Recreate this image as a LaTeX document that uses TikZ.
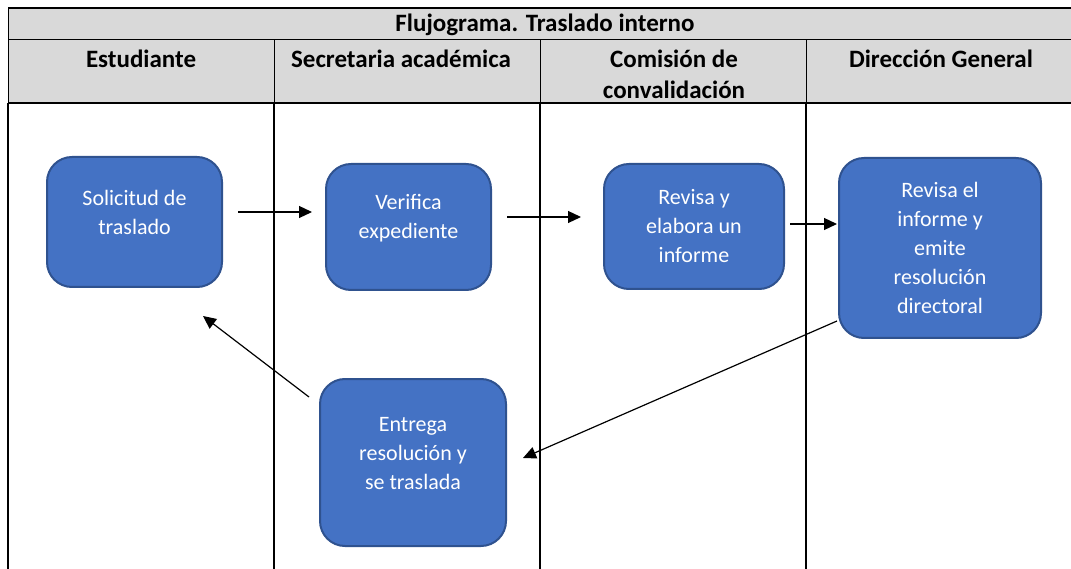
\documentclass[tikz,border=0pt]{standalone}
\usepackage{fontspec}
\setmainfont{Carlito}
\usetikzlibrary{arrows.meta,calc}
\definecolor{boxfill}{RGB}{68,114,196}
\definecolor{boxline}{RGB}{47,82,143}
\definecolor{hdrgray}{RGB}{217,217,217}
\tikzset{
  stepbox/.style={draw=boxline, fill=boxfill, line width=2pt, rounded corners=25pt,
    text=white, align=center, inner sep=0pt,
    font=\fontsize{22}{29}\selectfont},
  hdr/.style={align=center, inner sep=0pt, font=\bfseries\fontsize{25}{31.5}\selectfont},
  flow/.style={line width=1.2pt, -{Triangle[length=13pt,width=12pt]}},
  thickrule/.style={line width=2pt},
  thinrule/.style={line width=1pt}
}
\begin{document}
\begin{tikzpicture}[x=1pt,y=-1pt]
\useasboundingbox (0,0) rectangle (1071,569);
\begin{scope}
\clip (0,0) rectangle (1071,569);
% header background
\fill[hdrgray] (8,8) rectangle (1080,103);
\draw[thickrule] (8,8) -- (1080,8);
\draw[thinrule] (8,40) -- (1080,40);
\draw[thickrule] (8,103) -- (1080,103);
\foreach \x in {8,274,540,806} {
  \draw[thinrule] (\x,40) -- (\x,103);
  \draw[thickrule] (\x,103) -- (\x,575);
}
\draw[thinrule] (8,8) -- (8,40);
\end{scope}
% header texts
\node[hdr] (title) at (545,25) {Flujograma. Traslado interno};
\node[hdr] (h1) at (141,59) {Estudiante};
\node[hdr] (h2) at (401,59) {Secretaria académica};
\node[hdr] (h3) at (674,74.5) {Comisión de\\convalidación};
\node[hdr] (h4) at (941,59) {Dirección General};
% boxes
\node[stepbox, minimum width=175pt, minimum height=130pt, text depth=20pt] (n1) at (134.5,222) {Solicitud de\\traslado};
\node[stepbox, minimum width=165pt, minimum height=126pt, text depth=22pt] (n2) at (408.5,227) {Verifica\\expediente};
\node[stepbox, minimum width=180pt, minimum height=125pt] (n3) at (694,226.5) {Revisa y\\elabora un\\informe};
\node[stepbox, minimum width=202pt, minimum height=180pt] (n4) at (940,248) {Revisa el\\informe y\\emite\\resolución\\directoral};
\node[stepbox, minimum width=186pt, minimum height=167pt, text depth=18pt] (n5) at (413,462.5) {Entrega\\resolución y\\se traslada};
% connectors
\draw[flow] ($(n1.east)+(15,-10)$) -- ($(n2.west)+(-13,-15)$);
\draw[flow] ($(n2.east)+(15,-10)$) -- ($(n3.west)+(-22,-9.5)$);
\draw[flow] ($(n3.east)+(5,-2.5)$) -- ($(n4.west)+(-1,-24)$);
\draw[flow] ($(n4.south west)+(-1,-18)$) -- ($(n5.east)+(16,-4.5)$);
\draw[flow] ($(n5.north west)+(-10,19)$) -- ($(n1.south)+(68.5,28)$);
\end{tikzpicture}
\end{document}
